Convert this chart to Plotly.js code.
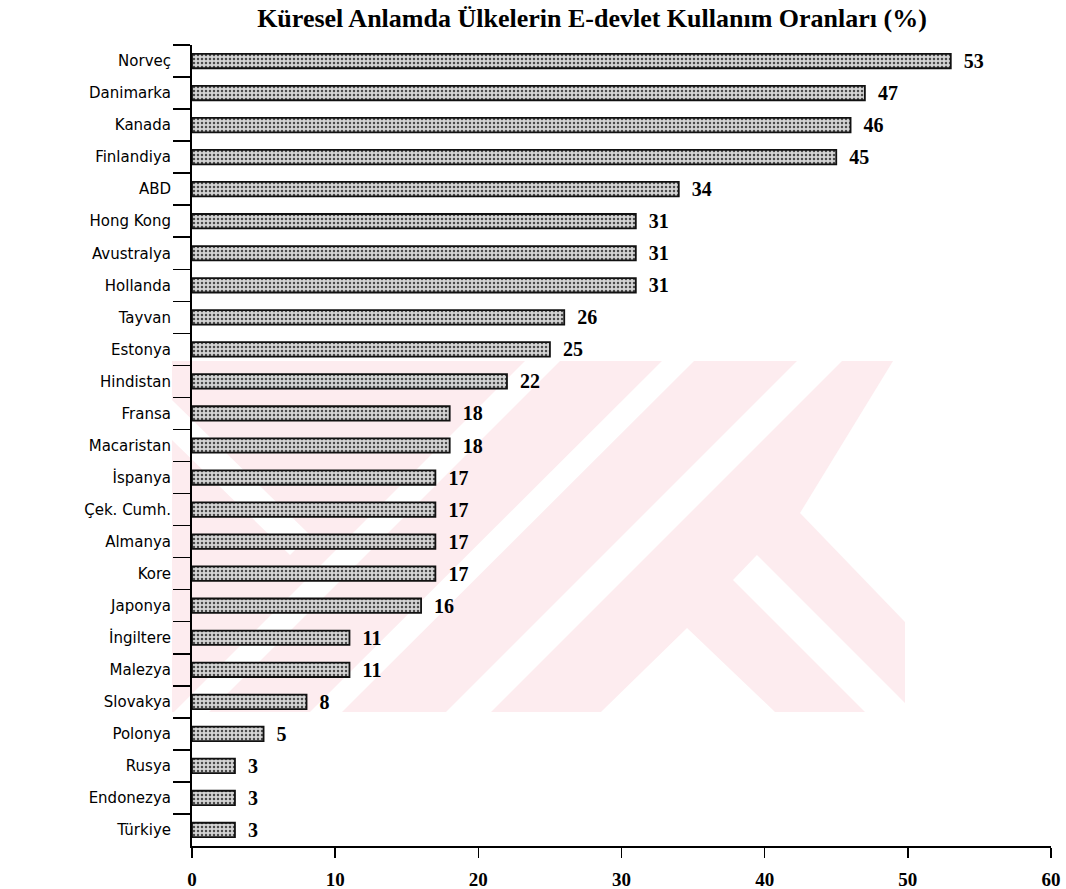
<!DOCTYPE html>
<html>
<head>
<meta charset="utf-8">
<script src="https://cdn.plot.ly/plotly-3.0.1.min.js"></script>
<style>html,body{margin:0;padding:0;background:#fff;}#chart{width:1066px;height:889px;}</style>
</head>
<body>
<div id="chart"></div>
<script>
// Data
const countries = ["Norveç","Danimarka","Kanada","Finlandiya","ABD","Hong Kong","Avustralya","Hollanda","Tayvan","Estonya","Hindistan","Fransa","Macaristan","İspanya","Çek. Cumh.","Almanya","Kore","Japonya","İngiltere","Malezya","Slovakya","Polonya","Rusya","Endonezya","Türkiye"];
const usage = [53,47,46,45,34,31,31,31,26,25,22,18,18,17,17,17,17,16,11,11,8,5,3,3,3];
const xTicks = [0,10,20,30,40,50,60];
const chartTitle = "Küresel Anlamda Ülkelerin E-devlet Kullanım Oranları (%)";

const W = 1066, H = 889;
const L = 192, R = 1051, T = 45, B = 846;
function px(x){ return (x - L) / (R - L); }
function py(y){ return (B - y) / (B - T); }
function poly(pts){
  return 'M' + pts.map(p => px(p[0]).toFixed(4) + ',' + py(p[1]).toFixed(4)).join('L') + 'Z';
}
// background watermark (decorative)
const pink = '#fdecef';
const wm = [
  {pts:[[172,361],[905,361],[905,712],[172,712]], c:pink},
  {pts:[[525,361],[560,361],[209,712],[174,712]], c:'#ffffff'},
  {pts:[[662,361],[694,361],[342,712],[310,712]], c:'#ffffff'},
  {pts:[[797,361],[842,361],[491,712],[446,712]], c:'#ffffff'},
  {pts:[[893,361],[905,361],[905,622],[800,513]], c:'#ffffff'},
  {pts:[[757,555],[905,703],[905,712],[865,712],[733,580]], c:'#ffffff'},
  {pts:[[687,628],[775,712],[601,712]], c:'#ffffff'},
  {pts:[[172,400],[310,535],[290,555],[172,440]], c:'#ffffff'}
];
const shapes = wm.map(s => ({
  type:'path', xref:'paper', yref:'paper', path: poly(s.pts),
  fillcolor: s.c, line:{width:0}, layer:'below'
}));

const trace = {
  type:'bar', orientation:'h',
  y: countries, x: usage,
  text: usage.map(v => '\u00a0\u00a0' + v),
  textposition:'outside',
  constraintext:'none',
  cliponaxis:false,
  textfont:{family:'"Liberation Serif", "Times New Roman", serif', size:20, color:'#000', weight:'bold'},
  width:0.45,
  marker:{
    color:'#cfcfcf',
    line:{color:'#111', width:1.8},
    pattern:{shape:'.', fgcolor:'#4a4a4a', bgcolor:'#d4d4d4', size:4, solidity:0.3}
  },
  hoverinfo:'skip'
};

const layout = {
  width:W, height:H,
  margin:{l:L, r:W-R, t:T, b:H-B, pad:0},
  paper_bgcolor:'#ffffff', plot_bgcolor:'rgba(0,0,0,0)',
  showlegend:false,
  title:{text:chartTitle, x:592/W, xanchor:'center', y:1-18/H, yanchor:'middle',
         font:{family:'"Liberation Serif", "Times New Roman", serif', size:26, color:'#000', weight:'bold'}},
  xaxis:{
    range:[0,60], tickvals:xTicks, ticktext:xTicks.map(String),
    showgrid:false, zeroline:false,
    showline:true, linecolor:'#000', linewidth:1.5,
    ticks:'outside', ticklen:10, tickwidth:1.5, tickcolor:'#000',
    ticklabelstandoff:6,
    tickfont:{family:'"Liberation Serif", "Times New Roman", serif', size:19, color:'#000', weight:'bold'},
    fixedrange:true
  },
  yaxis:{
    type:'category', autorange:'reversed',
    showgrid:false, zeroline:false,
    showline:true, linecolor:'#000', linewidth:2,
    ticks:'outside', ticklen:17, tickwidth:1.5, tickcolor:'#000',
    tickson:'boundaries',
    ticklabelstandoff:16,
    tickfont:{family:'"DejaVu Sans", sans-serif', size:15, color:'#000'},
    fixedrange:true
  },
  shapes: shapes,
  font:{family:'"DejaVu Sans", sans-serif', color:'#000'}
};

Plotly.newPlot('chart', [trace], layout, {displayModeBar:false, staticPlot:true});
</script>
</body>
</html>
